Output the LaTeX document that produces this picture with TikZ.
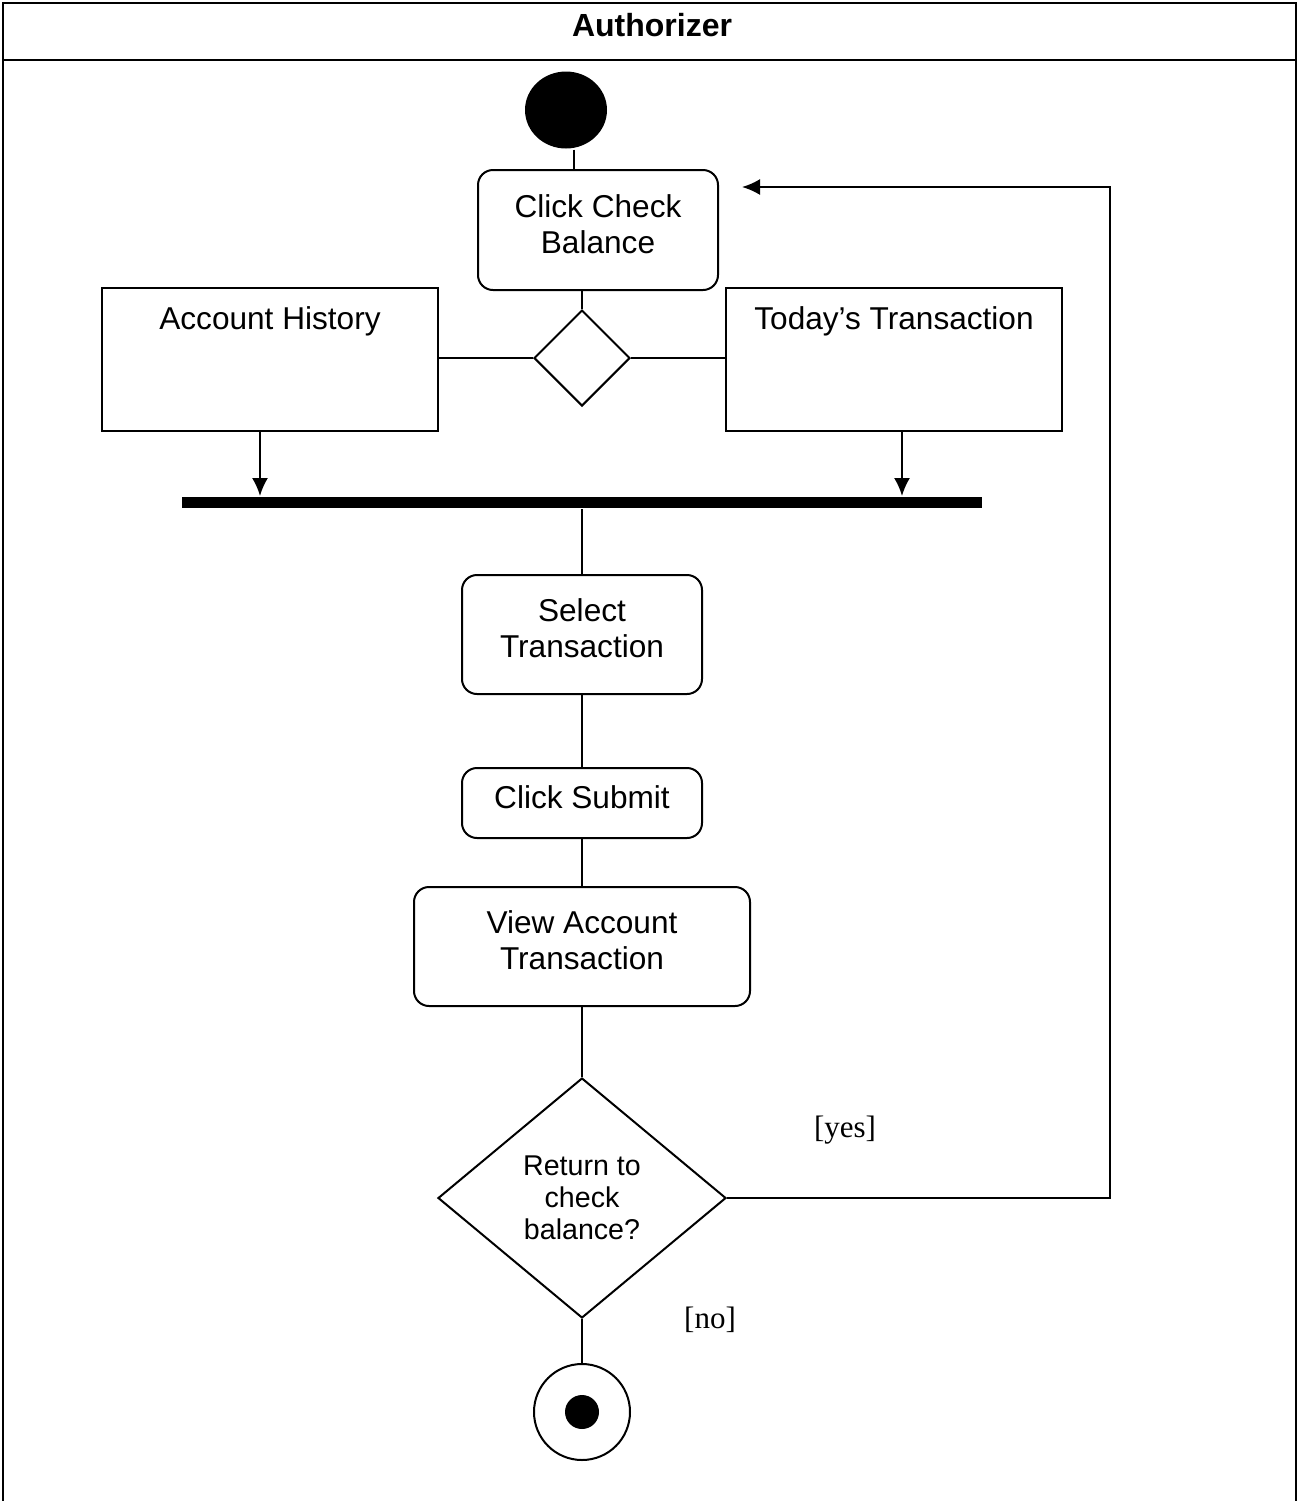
\documentclass[tikz,border=0pt]{standalone}
\usepackage{fontspec}
\setmainfont{Liberation Sans}
\newfontfamily\guardfont{Liberation Serif}
\usetikzlibrary{arrows.meta,shapes.geometric}

\begin{document}
\begin{tikzpicture}[x=0.5pt,y=-0.5pt,line width=1pt]
\tikzset{action/.style = {shape=rectangle,draw,rounded corners=7.5pt,inner sep=0pt,label={[align=center,yshift=3pt,font=\fontsize{15.8}{18}\selectfont]center:#1}}}
\tikzset{region/.style = {shape=rectangle,draw,inner sep=0pt,minimum width=168pt,minimum height=71.5pt,label={[anchor=north,yshift=-6pt,font=\fontsize{15.8}{18}\selectfont]north:#1}}}
\tikzset{choice/.style = {shape=diamond,draw,inner sep=0pt,align=center}}
\tikzset{guard/.style = {font=\guardfont\fontsize{15.5}{18}\selectfont}}
\tikzset{edge/.style = {-{Latex[length=9pt,width=8pt]}}}
\useasboundingbox (0,0) rectangle (1299,1501);

% swimlane
\draw (3,1501) -- (3,3) -- (1296,3) -- (1296,1501);
\draw (3,60) -- (1296,60);
\node[font=\bfseries\fontsize{16}{19}\selectfont] (lane) at (652,25) {Authorizer};

\node[shape=ellipse,fill,inner sep=0pt,minimum width=41pt,minimum height=38.5pt] (start) at (566,110) {};
\node[action={Click Check\\Balance},minimum width=120pt,minimum height=60pt] (ccb) at (598,230) {};
\node[choice,minimum width=48pt,minimum height=48pt] (split) at (582,358) {};
\node[region=Account History] (hist) at (270,359.5) {};
\node[region=Today’s Transaction] (today) at (894,359.5) {};
\node[shape=rectangle,fill,inner sep=0pt,minimum width=400pt,minimum height=5.5pt] (bar) at (582,502.5) {};
\node[action={Select\\Transaction},minimum width=120pt,minimum height=59.5pt] (sel) at (582,634.5) {};
\node[action={Click Submit},minimum width=120pt,minimum height=35pt] (sub) at (582,803) {};
\node[action={View Account\\Transaction},minimum width=168pt,minimum height=59.5pt] (view) at (582,946.5) {};
\node[choice,minimum width=144pt,minimum height=120pt,font=\fontsize{14.3}{16}\selectfont] (ask) at (582,1198) {Return to\\check\\balance?};
\node[shape=circle,draw,inner sep=0pt,minimum size=48pt] (fin) at (582,1412) {};
\node[shape=circle,fill,inner sep=0pt,minimum size=17pt] (findot) at (fin.center) {};
\node[guard] (yes) at (845,1130) {[yes]};
\node[guard] (no) at (710,1320) {[no]};
\coordinate (turn) at (1110,187);
\coordinate (back) at (742,187);

\draw (start.south -| 574,0) -- (ccb.north -| 574,0);
\draw (split.north |- ccb.south) -- (split.north);
\draw (split.west) -- (hist.east |- split.west);
\draw (split.east) -- (today.west |- split.east);
\draw[edge] (hist.south -| 260,0) -- (bar.north -| 260,0);
\draw[edge] (today.south -| 902,0) -- (bar.north -| 902,0);
\draw (bar.south) -- (sel.north);
\draw (sel) -- (sub);
\draw (sub) -- (view);
\draw (view) -- (ask);
\draw (ask) -- (fin);
\draw[edge] (ask.east) -| (turn) -- (back);
\end{tikzpicture}
\end{document}
